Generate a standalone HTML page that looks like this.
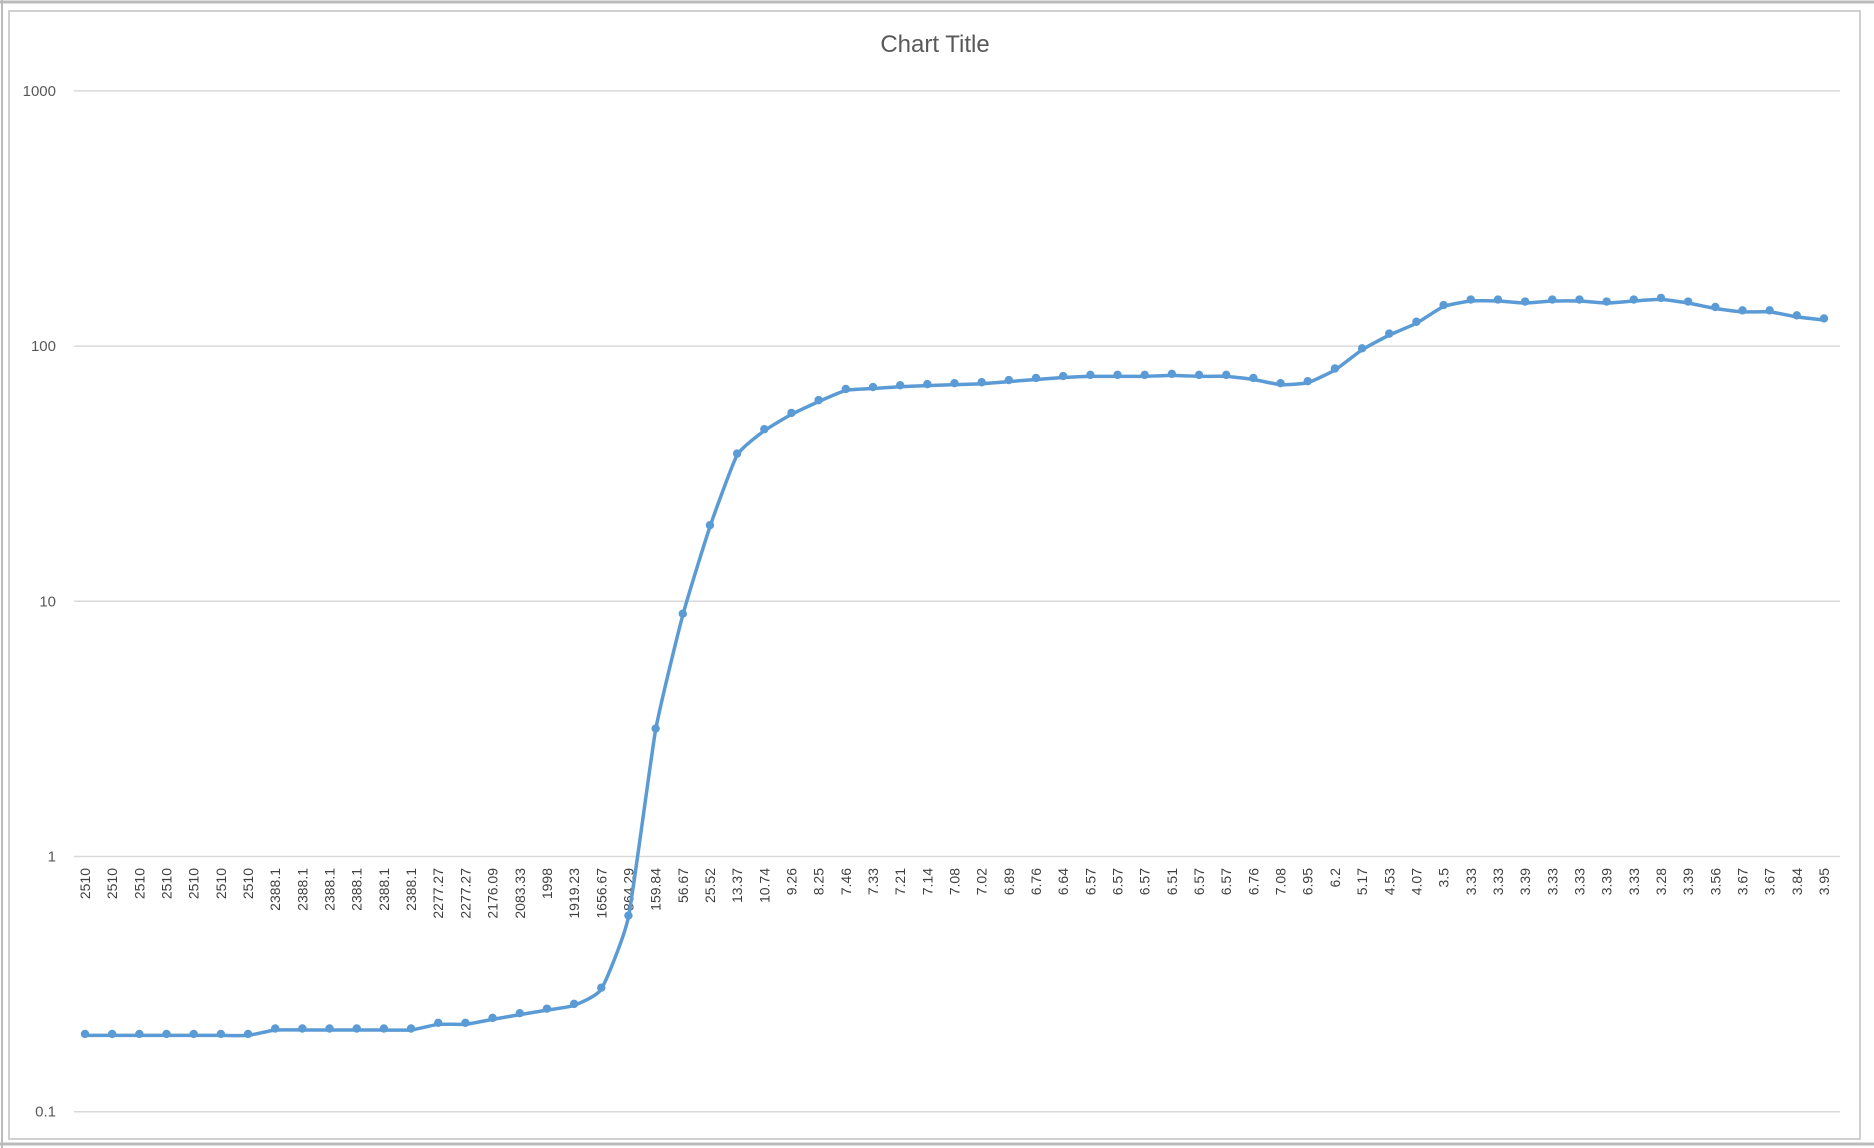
<!DOCTYPE html>
<html><head><meta charset="utf-8"><style>
html,body{margin:0;padding:0;background:#fff;}
svg{display:block;font-family:"Liberation Sans",sans-serif;}
</style></head><body>
<svg id="chart" width="1874" height="1148" viewBox="0 0 1874 1148" xmlns="http://www.w3.org/2000/svg">
<rect x="0" y="0" width="1874" height="1148" fill="#fff"/>
<line x1="0" y1="2" x2="1874" y2="2" stroke="#bbb" stroke-width="3"/>
<rect x="9" y="11" width="1851" height="1128" fill="none" stroke="#d0d0d0" stroke-width="2"/>
<line x1="2" y1="0" x2="2" y2="1148" stroke="#bbb" stroke-width="2"/>
<line x1="0" y1="1144" x2="1874" y2="1144" stroke="#bbb" stroke-width="3"/>
<text x="935" y="52" text-anchor="middle" font-size="24" fill="#595959">Chart Title</text>
<g id="grid"></g><g id="ylabels"></g><g id="xlabels"></g><g id="series"></g>
</svg>
<script>
const categories = ["2510","2510","2510","2510","2510","2510","2510","2388.1","2388.1","2388.1","2388.1","2388.1","2388.1","2277.27","2277.27","2176.09","2083.33","1998","1919.23","1656.67","864.29","159.84","56.67","25.52","13.37","10.74","9.26","8.25","7.46","7.33","7.21","7.14","7.08","7.02","6.89","6.76","6.64","6.57","6.57","6.57","6.51","6.57","6.57","6.76","7.08","6.95","6.2","5.17","4.53","4.07","3.5","3.33","3.33","3.39","3.33","3.33","3.39","3.33","3.28","3.39","3.56","3.67","3.67","3.84","3.95"];
const values = [0.199,0.199,0.199,0.199,0.199,0.199,0.199,0.209,0.209,0.209,0.209,0.209,0.209,0.220,0.220,0.230,0.240,0.250,0.261,0.302,0.579,3.13,8.82,19.6,37.4,46.6,54.0,60.6,67.0,68.2,69.3,70.0,70.6,71.2,72.6,74.0,75.3,76.1,76.1,76.1,76.8,76.1,76.1,74.0,70.6,71.9,80.6,96.7,110.4,122.9,142.9,150.2,150.2,147.5,150.2,150.2,147.5,150.2,152.4,147.5,140.4,136.2,136.2,130.2,126.6];
const yTicks = [0.1,1,10,100,1000];
const yTickLabels = ["0.1","1","10","100","1000"];

const NS="http://www.w3.org/2000/svg";
const plotL=74, plotR=1840, x0=85, x1=1824;
function xPos(i){return x0+(x1-x0)*i/(categories.length-1);}
function yPos(v){return 856.5-255.2*Math.log10(v);}
function mk(tag,attrs,parent){const e=document.createElementNS(NS,tag);for(const k in attrs)e.setAttribute(k,attrs[k]);parent.appendChild(e);return e;}

const grid=document.getElementById('grid'), yl=document.getElementById('ylabels');
yTicks.forEach((t,i)=>{
  const y=yPos(t);
  const l=mk('line',{x1:plotL,x2:plotR,y1:y,y2:y,stroke:'#d9d9d9','stroke-width':1.5},grid);
  
  
  const tx=mk('text',{x:56,y:y+5,'text-anchor':'end','font-size':15,fill:'#595959'},yl);
  tx.textContent=yTickLabels[i];
  
  
});

const xl=document.getElementById('xlabels');
categories.forEach((c,i)=>{
  const x=xPos(i);
  const tx=mk('text',{x:0,y:0,'text-anchor':'end','font-size':14,fill:'#404040',transform:`translate(${x+5},868) rotate(-90)`},xl);
  tx.textContent=c;
  
  
});

const s=document.getElementById('series');
const pts=values.map((v,i)=>[xPos(i),yPos(v)]);
let d=`M${pts[0][0]},${pts[0][1]}`;
for(let i=0;i<pts.length-1;i++){
  const p0=pts[Math.max(0,i-1)],p1=pts[i],p2=pts[i+1],p3=pts[Math.min(pts.length-1,i+2)];
  const t=0.08;
  const c1=[p1[0]+(p2[0]-p0[0])*t,p1[1]+(p2[1]-p0[1])*t];
  const c2=[p2[0]-(p3[0]-p1[0])*t,p2[1]-(p3[1]-p1[1])*t];
  d+=` C${c1[0]},${c1[1]} ${c2[0]},${c2[1]} ${p2[0]},${p2[1]}`;
}
const path=mk('path',{d:d,fill:'none',stroke:'#5b9bd5','stroke-width':3.5,'stroke-linejoin':'round'},s);


pts.forEach(p=>{
  const c=mk('circle',{cx:p[0],cy:p[1]-1.5,r:4.2,fill:'#5b9bd5'},s);
  
  
});
</script>
</body></html>
